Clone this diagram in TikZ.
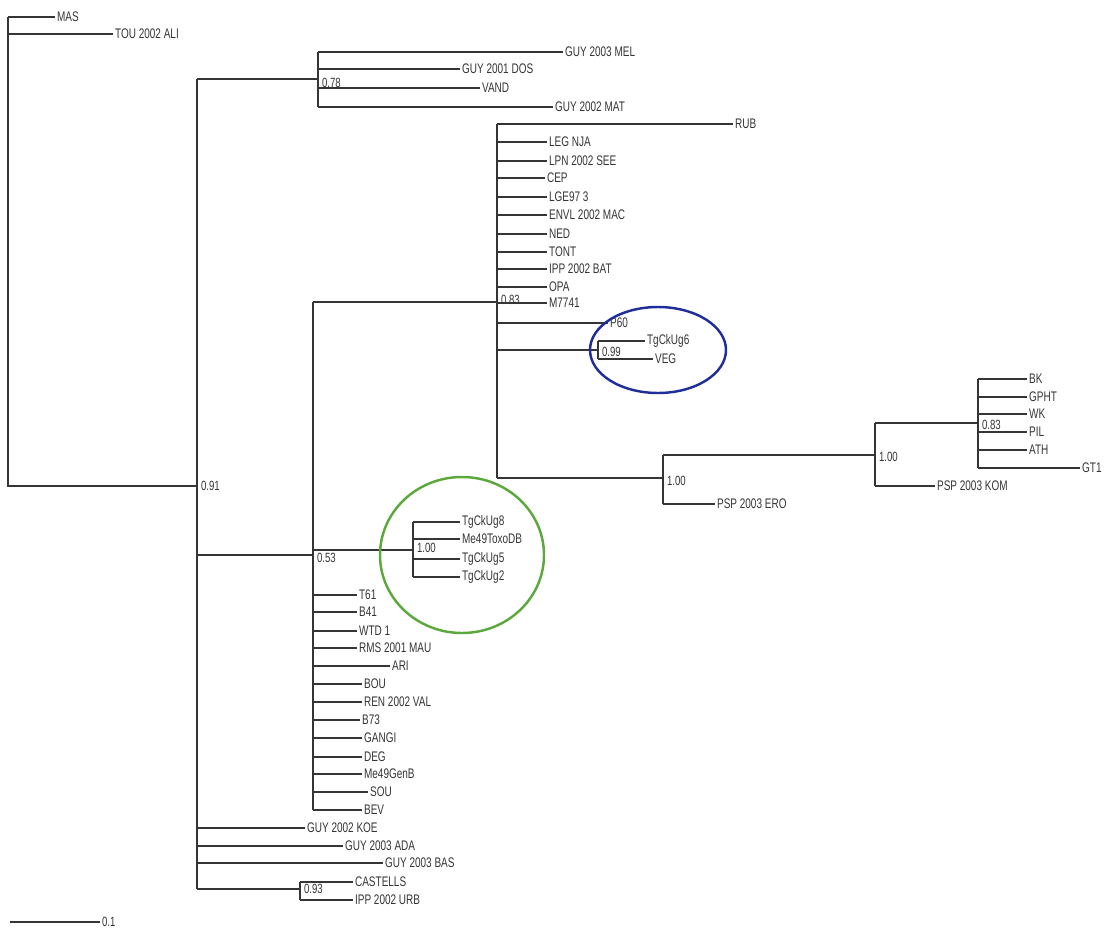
\documentclass[tikz,border=0pt]{standalone}
\usepackage{fontspec}
\setmainfont{Liberation Sans}[FakeStretch=0.72]
\definecolor{branch}{HTML}{353535}
\definecolor{ringblue}{HTML}{1F2E9A}
\definecolor{ringgreen}{HTML}{5BA83C}

\begin{document}
\begin{tikzpicture}[x=0.02cm,y=-0.02cm,
	br/.style={branch,line width=1.1pt},
	taxon/.style={anchor=west,inner sep=1pt,text=branch,font=\fontsize{7.9}{9}\selectfont},
	supp/.style={anchor=west,inner sep=1pt,text=branch,font=\fontsize{7.6}{8}\selectfont}]
	\useasboundingbox (0,0) rectangle (1112,929);

	% root and outgroup
	\coordinate (root) at (8,17);
	\node[taxon] (mas) at (55,17) {MAS};
	\node[taxon] (tou) at (113,34) {TOU 2002 ALI};
	\coordinate (n91) at (197,486);
	\node[supp] (l91) at (199,486) {0.91};
	\draw[br] (root) -- (root |- n91) -- (n91);
	\draw[br] (root) -- (mas);
	\draw[br] (root |- tou) -- (tou);

	% children of 0.91
	\coordinate (n78) at (318,79);
	\coordinate (n53) at (313,555);
	\coordinate (n93) at (300,889);
	\node[supp] (l78) at (320,83) {0.78};
	\node[supp] (l53) at (315,558) {0.53};
	\node[supp] (l93) at (302,889) {0.93};
	\draw[br] (n91 |- n78) -- (n91 |- n93);
	\draw[br] (n91 |- n78) -- (n78);
	\draw[br] (n91 |- n53) -- (n53);
	\draw[br] (n91 |- n93) -- (n93);
	\foreach \nm/\txt/\y/\x in {koe/GUY 2002 KOE/828/305, ada/GUY 2003 ADA/846/343,
			bas/GUY 2003 BAS/863/383}{
		\node[taxon] (\nm) at (\x,\y) {\txt};
		\draw[br] (n91 |- \nm) -- (\nm);
	}

	% 0.78
	\foreach \nm/\txt/\y/\x in {mel/GUY 2003 MEL/52/563, dos/GUY 2001 DOS/69/460,
			vand/VAND/88/480, mat/GUY 2002 MAT/107/553}{
		\node[taxon] (\nm) at (\x,\y) {\txt};
		\draw[br] (n78 |- \nm) -- (\nm);
	}
	\draw[br] (n78 |- mel) -- (n78 |- mat);

	% 0.93
	\node[taxon] (cast) at (353,882) {CASTELLS};
	\node[taxon] (urb) at (353,900) {IPP 2002 URB};
	\draw[br] (n93 |- cast) -- (cast);
	\draw[br] (n93 |- urb) -- (urb);
	\draw[br] (n93 |- cast) -- (n93 |- urb);

	% 0.53
	\coordinate (n83) at (497,302);
	\coordinate (n100a) at (413,550);
	\node[supp] (l83) at (499,300) {0.83};
	\node[supp] (l100a) at (415,548) {1.00};
	\draw[br] (n53 |- n83) -- (n83);
	\draw[br] (n53 |- n100a) -- (n100a);
	\foreach \nm/\txt/\y/\x in {t61/T61/595/357, b41/B41/612/357, wtd/WTD 1/631/357,
			rms/RMS 2001 MAU/648/357, ari/ARI/666/390, bou/BOU/684/362,
			ren/REN 2002 VAL/702/362, b73/B73/720/360, gangi/GANGI/738/362,
			deg/DEG/757/362, genb/Me49GenB/774/362, sou/SOU/792/368, bev/BEV/810/362}{
		\node[taxon] (\nm) at (\x,\y) {\txt};
		\draw[br] (n53 |- \nm) -- (\nm);
	}
	\draw[br] (n53 |- n83) -- (n53 |- bev);

	% 1.00, TgCkUg clade
	\foreach \nm/\txt/\y in {ug8/TgCkUg8/522, toxo/Me49ToxoDB/539, ug5/TgCkUg5/559, ug2/TgCkUg2/577}{
		\node[taxon] (\nm) at (460,\y) {\txt};
		\draw[br] (n100a |- \nm) -- (\nm);
	}
	\draw[br] (n100a |- ug8) -- (n100a |- ug2);

	% 0.83, large polytomy
	\coordinate (n99) at (598,350);
	\coordinate (n100b) at (663,478);
	\node[supp] (l99) at (600,352) {0.99};
	\node[supp] (l100b) at (665,481) {1.00};
	\foreach \nm/\txt/\y/\x in {rub/RUB/124/733, leg/LEG NJA/142/547, lpn/LPN 2002 SEE/161/547,
			cep/CEP/178/545, lge/LGE97 3/197/547, envl/ENVL 2002 MAC/215/547,
			ned/NED/234/547, tont/TONT/252/547, bat/IPP 2002 BAT/269/547,
			opa/OPA/287/547, m77/M7741/303/547, p60/P60/323/608}{
		\node[taxon] (\nm) at (\x,\y) {\txt};
		\draw[br] (n83 |- \nm) -- (\nm);
	}
	\draw[br] (n83 |- n99) -- (n99);
	\draw[br] (n83 |- n100b) -- (n100b);
	\draw[br] (n83 |- rub) -- (n83 |- n100b);

	% 0.99
	\node[taxon] (ug6) at (645,341) {TgCkUg6};
	\node[taxon] (veg) at (653,359) {VEG};
	\draw[br] (n99 |- ug6) -- (ug6);
	\draw[br] (n99 |- veg) -- (veg);
	\draw[br] (n99 |- ug6) -- (n99 |- veg);

	% 1.00 / 1.00 / 0.83
	\coordinate (n100c) at (875,455);
	\coordinate (n83s) at (978,423);
	\node[supp] (l100c) at (877,457) {1.00};
	\node[supp] (l83s) at (980,425) {0.83};
	\node[taxon] (ero) at (715,504) {PSP 2003 ERO};
	\node[taxon] (kom) at (935,486) {PSP 2003 KOM};
	\draw[br] (n100b |- n100c) -- (n100c);
	\draw[br] (n100b |- ero) -- (ero);
	\draw[br] (n100b |- n100c) -- (n100b |- ero);
	\draw[br] (n100c |- n83s) -- (n83s);
	\draw[br] (n100c |- kom) -- (kom);
	\draw[br] (n100c |- n83s) -- (n100c |- kom);
	\foreach \nm/\txt/\y/\x in {bk/BK/379/1027, gpht/GPHT/397/1027, wk/WK/414/1027,
			pil/PIL/432/1027, ath/ATH/450/1027, gt/GT1/468/1080}{
		\node[taxon] (\nm) at (\x,\y) {\txt};
		\draw[br] (n83s |- \nm) -- (\nm);
	}
	\draw[br] (n83s |- bk) -- (n83s |- gt);

	% highlighted clades
	\draw[ringblue,line width=1.4pt] (658,350) ellipse [x radius=68, y radius=43];
	\draw[ringgreen,line width=1.4pt] (462,555) ellipse [x radius=82, y radius=78];

	% scale bar
	\coordinate (sb) at (10,922);
	\node[supp] (lsb) at (100,922) {0.1};
	\draw[br] (sb) -- (lsb);
\end{tikzpicture}
\end{document}
